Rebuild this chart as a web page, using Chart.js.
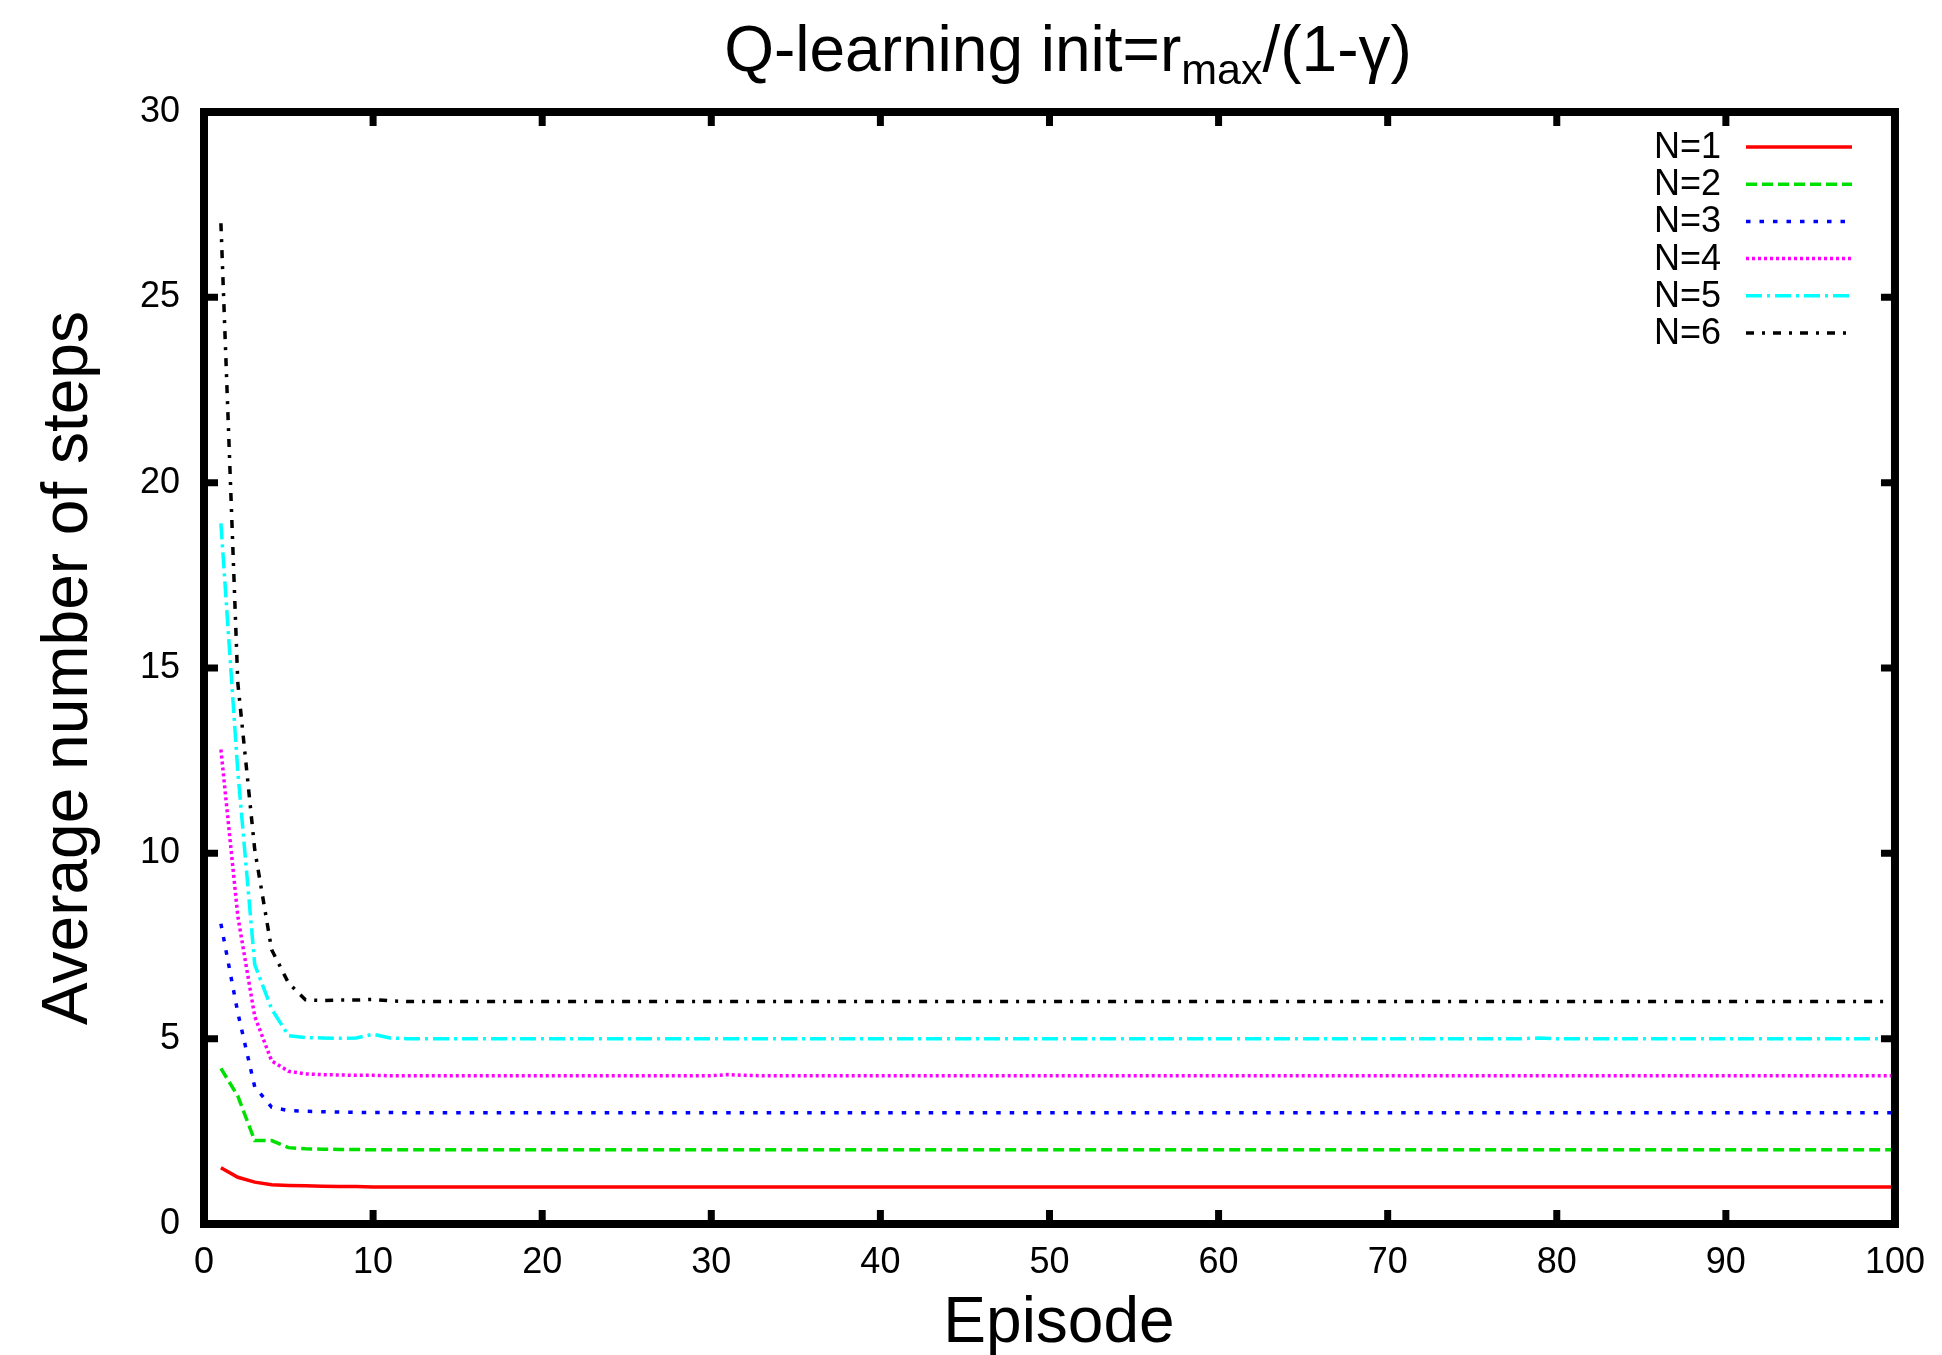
<!DOCTYPE html>
<html>
<head>
<meta charset="utf-8">
<title>Q-learning init</title>
<script src="https://cdn.jsdelivr.net/npm/chart.js@4.4.1/dist/chart.umd.min.js"></script>
<style>
  html, body { margin: 0; padding: 0; background: #ffffff; }
  canvas { display: block; }
</style>
</head>
<body>
<canvas id="steps-chart" width="1942" height="1355"></canvas>
<script>
const episodes = Array.from({ length: 100 }, (_, i) => i + 1);
const seriesLabels = ["N=1", "N=2", "N=3", "N=4", "N=5", "N=6"];
const xTicks = [0, 10, 20, 30, 40, 50, 60, 70, 80, 90, 100];
const yTicks = [0, 5, 10, 15, 20, 25, 30];

const stepsN1 = [
  1.52, 1.26, 1.13, 1.06, 1.04, 1.03, 1.02, 1.01, 1.01, 1.00,
  1.00, 1.00, 1.00, 1.00, 1.00, 1.00, 1.00, 1.00, 1.00, 1.00,
  1.00, 1.00, 1.00, 1.00, 1.00, 1.00, 1.00, 1.00, 1.00, 1.00,
  1.00, 1.00, 1.00, 1.00, 1.00, 1.00, 1.00, 1.00, 1.00, 1.00,
  1.00, 1.00, 1.00, 1.00, 1.00, 1.00, 1.00, 1.00, 1.00, 1.00,
  1.00, 1.00, 1.00, 1.00, 1.00, 1.00, 1.00, 1.00, 1.00, 1.00,
  1.00, 1.00, 1.00, 1.00, 1.00, 1.00, 1.00, 1.00, 1.00, 1.00,
  1.00, 1.00, 1.00, 1.00, 1.00, 1.00, 1.00, 1.00, 1.00, 1.00,
  1.00, 1.00, 1.00, 1.00, 1.00, 1.00, 1.00, 1.00, 1.00, 1.00,
  1.00, 1.00, 1.00, 1.00, 1.00, 1.00, 1.00, 1.00, 1.00, 1.00,
];
const stepsN2 = [
  4.20, 3.45, 2.25, 2.25, 2.06, 2.03, 2.02, 2.01, 2.01, 2.00,
  2.00, 2.00, 2.00, 2.00, 2.00, 2.00, 2.00, 2.00, 2.00, 2.00,
  2.00, 2.00, 2.00, 2.00, 2.00, 2.00, 2.00, 2.00, 2.00, 2.00,
  2.00, 2.00, 2.00, 2.00, 2.00, 2.00, 2.00, 2.00, 2.00, 2.00,
  2.00, 2.00, 2.00, 2.00, 2.00, 2.00, 2.00, 2.00, 2.00, 2.00,
  2.00, 2.00, 2.00, 2.00, 2.00, 2.00, 2.00, 2.00, 2.00, 2.00,
  2.00, 2.00, 2.00, 2.00, 2.00, 2.00, 2.00, 2.00, 2.00, 2.00,
  2.00, 2.00, 2.00, 2.00, 2.00, 2.00, 2.00, 2.00, 2.00, 2.00,
  2.00, 2.00, 2.00, 2.00, 2.00, 2.00, 2.00, 2.00, 2.00, 2.00,
  2.00, 2.00, 2.00, 2.00, 2.00, 2.00, 2.00, 2.00, 2.00, 2.00,
];
const stepsN3 = [
  8.10, 5.70, 3.70, 3.15, 3.06, 3.04, 3.03, 3.02, 3.01, 3.01,
  3.01, 3.00, 3.00, 3.00, 3.00, 3.00, 3.00, 3.00, 3.00, 3.00,
  3.00, 3.00, 3.00, 3.00, 3.00, 3.00, 3.00, 3.00, 3.00, 3.00,
  3.00, 3.00, 3.00, 3.00, 3.00, 3.00, 3.00, 3.00, 3.00, 3.00,
  3.00, 3.00, 3.00, 3.00, 3.00, 3.00, 3.00, 3.00, 3.00, 3.00,
  3.00, 3.00, 3.00, 3.00, 3.00, 3.00, 3.00, 3.00, 3.00, 3.00,
  3.00, 3.00, 3.00, 3.00, 3.00, 3.00, 3.00, 3.00, 3.00, 3.00,
  3.00, 3.00, 3.00, 3.00, 3.00, 3.00, 3.00, 3.00, 3.00, 3.00,
  3.00, 3.00, 3.00, 3.00, 3.00, 3.00, 3.00, 3.00, 3.00, 3.00,
  3.00, 3.00, 3.00, 3.00, 3.00, 3.00, 3.00, 3.00, 3.00, 3.00,
];
const stepsN4 = [
  12.80, 8.30, 5.60, 4.40, 4.12, 4.05, 4.03, 4.02, 4.01, 4.01,
  4.00, 4.00, 4.00, 4.00, 4.00, 4.00, 4.00, 4.00, 4.00, 4.00,
  4.00, 4.00, 4.00, 4.00, 4.00, 4.00, 4.00, 4.00, 4.00, 4.00,
  4.03, 4.01, 4.00, 4.00, 4.00, 4.00, 4.00, 4.00, 4.00, 4.00,
  4.00, 4.00, 4.00, 4.00, 4.00, 4.00, 4.00, 4.00, 4.00, 4.00,
  4.00, 4.00, 4.00, 4.00, 4.00, 4.00, 4.00, 4.00, 4.00, 4.00,
  4.00, 4.00, 4.00, 4.00, 4.00, 4.00, 4.00, 4.00, 4.00, 4.00,
  4.00, 4.00, 4.00, 4.00, 4.00, 4.00, 4.00, 4.00, 4.00, 4.00,
  4.00, 4.00, 4.00, 4.00, 4.00, 4.00, 4.00, 4.00, 4.00, 4.00,
  4.00, 4.00, 4.00, 4.00, 4.00, 4.00, 4.00, 4.00, 4.00, 4.00,
];
const stepsN5 = [
  18.90, 12.20, 7.00, 5.80, 5.08, 5.03, 5.02, 5.01, 5.02, 5.12,
  5.02, 5.00, 5.00, 5.00, 5.00, 5.00, 5.00, 5.00, 5.00, 5.00,
  5.00, 5.00, 5.00, 5.00, 5.00, 5.00, 5.00, 5.00, 5.00, 5.00,
  5.00, 5.00, 5.00, 5.00, 5.00, 5.00, 5.00, 5.00, 5.00, 5.00,
  5.00, 5.00, 5.00, 5.00, 5.00, 5.00, 5.00, 5.00, 5.00, 5.00,
  5.00, 5.00, 5.00, 5.00, 5.00, 5.00, 5.00, 5.00, 5.00, 5.00,
  5.00, 5.00, 5.00, 5.00, 5.00, 5.00, 5.00, 5.00, 5.00, 5.00,
  5.00, 5.00, 5.00, 5.00, 5.00, 5.00, 5.00, 5.00, 5.02, 5.00,
  5.00, 5.00, 5.00, 5.00, 5.00, 5.00, 5.00, 5.00, 5.00, 5.00,
  5.00, 5.00, 5.00, 5.00, 5.00, 5.00, 5.00, 5.00, 5.00, 5.00,
];
const stepsN6 = [
  27.00, 14.60, 10.10, 7.40, 6.50, 6.05, 6.03, 6.04, 6.04, 6.06,
  6.02, 6.00, 6.00, 6.00, 6.00, 6.00, 6.00, 6.00, 6.00, 6.00,
  6.00, 6.00, 6.00, 6.00, 6.00, 6.00, 6.00, 6.00, 6.00, 6.00,
  6.00, 6.00, 6.00, 6.00, 6.00, 6.00, 6.00, 6.00, 6.00, 6.00,
  6.00, 6.00, 6.00, 6.00, 6.00, 6.00, 6.00, 6.00, 6.00, 6.00,
  6.00, 6.00, 6.00, 6.00, 6.00, 6.00, 6.00, 6.00, 6.00, 6.00,
  6.00, 6.00, 6.00, 6.00, 6.00, 6.00, 6.00, 6.00, 6.00, 6.00,
  6.00, 6.00, 6.00, 6.00, 6.00, 6.00, 6.00, 6.00, 6.00, 6.00,
  6.00, 6.00, 6.00, 6.00, 6.00, 6.00, 6.00, 6.00, 6.00, 6.00,
  6.00, 6.00, 6.00, 6.00, 6.00, 6.00, 6.00, 6.00, 6.00, 6.00,
];

const FONT = "'Liberation Sans', Arial, Helvetica, sans-serif";
const lineColors = ["#ff0000", "#00e000", "#0000ff", "#ff00ff", "#00ffff", "#000000"];
const lineDashes = [[], [11, 5], [4.5, 9], [3, 3], [16, 5, 3, 5], [8, 8, 3, 8]];
const allSeries = [stepsN1, stepsN2, stepsN3, stepsN4, stepsN5, stepsN6];

// frame + inward ticks on all four sides, like gnuplot's border
const framePlugin = {
  id: "frame",
  afterDatasetsDraw(chart) {
    const { ctx, chartArea: a, scales } = chart;
    ctx.save();
    ctx.strokeStyle = "#000";
    ctx.lineWidth = 8;
    ctx.strokeRect(a.left, a.top, a.right - a.left, a.bottom - a.top);
    const len = 14;
    ctx.lineWidth = 7;
    ctx.beginPath();
    xTicks.forEach((v) => {
      const x = scales.x.getPixelForValue(v);
      ctx.moveTo(x, a.bottom); ctx.lineTo(x, a.bottom - len);
      ctx.moveTo(x, a.top); ctx.lineTo(x, a.top + len);
    });
    yTicks.forEach((v) => {
      const y = scales.y.getPixelForValue(v);
      ctx.moveTo(a.left, y); ctx.lineTo(a.left + len, y);
      ctx.moveTo(a.right, y); ctx.lineTo(a.right - len, y);
    });
    ctx.stroke();
    ctx.restore();
  },
};

// title with subscript and axis titles
const textPlugin = {
  id: "texts",
  afterDraw(chart) {
    const { ctx, chartArea: a } = chart;
    ctx.save();
    ctx.fillStyle = "#000";
    ctx.textBaseline = "alphabetic";
    const big = `64px ${FONT}`;
    const small = `43px ${FONT}`;
    const parts = [
      { t: "Q-learning init=r", f: big, dy: 0 },
      { t: "max", f: small, dy: 13 },
      { t: "/(1-\u03b3)", f: big, dy: 0 },
    ];
    let total = 0;
    parts.forEach((p) => { ctx.font = p.f; p.w = ctx.measureText(p.t).width; total += p.w; });
    let x = 1068 - total / 2;
    parts.forEach((p) => {
      ctx.font = p.f;
      ctx.textAlign = "left";
      ctx.fillText(p.t, x, 71 + p.dy);
      x += p.w;
    });

    ctx.font = `64px ${FONT}`;
    ctx.textAlign = "center";
    ctx.fillText("Episode", 1059, 1342);

    ctx.translate(87, (a.top + a.bottom) / 2);
    ctx.rotate(-Math.PI / 2);
    ctx.fillText("Average number of steps", 0, 0);
    ctx.restore();
  },
};

// gnuplot style key: label right-aligned, line sample to the right
const keyPlugin = {
  id: "key",
  afterDraw(chart) {
    const { ctx } = chart;
    ctx.save();
    ctx.font = `36px ${FONT}`;
    ctx.fillStyle = "#000";
    ctx.textAlign = "right";
    ctx.textBaseline = "middle";
    chart.data.datasets.forEach((ds, i) => {
      const y = 147 + i * 37.2;
      ctx.fillText(ds.label, 1721, y + 1);
      ctx.beginPath();
      ctx.strokeStyle = ds.borderColor;
      ctx.lineWidth = ds.borderWidth;
      ctx.setLineDash(ds.borderDash);
      ctx.moveTo(1746, y);
      ctx.lineTo(1852, y);
      ctx.stroke();
    });
    ctx.restore();
  },
};

Chart.defaults.font.family = FONT;
Chart.defaults.color = "#000";

new Chart(document.getElementById("steps-chart"), {
  type: "line",
  data: {
    datasets: allSeries.map((vals, i) => ({
      label: seriesLabels[i],
      data: vals.map((v, k) => ({ x: episodes[k], y: v })),
      borderColor: lineColors[i],
      borderDash: lineDashes[i],
      borderWidth: 3.5,
      pointRadius: 0,
      tension: 0,
      fill: false,
    })),
  },
  options: {
    responsive: false,
    animation: false,
    layout: { padding: { top: 112, right: 45, bottom: 0, left: 0 } },
    plugins: {
      legend: { display: false },
      tooltip: { enabled: false },
      title: { display: false },
    },
    scales: {
      x: {
        type: "linear",
        min: 0,
        max: 100,
        afterFit: (scale) => { scale.height = 131; },
        afterBuildTicks: (scale) => { scale.ticks = xTicks.map((v) => ({ value: v })); },
        grid: { display: false, drawTicks: false },
        border: { display: false },
        ticks: { font: { size: 36 }, padding: 17, maxRotation: 0, color: "#000" },
      },
      y: {
        type: "linear",
        min: 0,
        max: 30,
        afterFit: (scale) => { scale.width = 204; },
        afterBuildTicks: (scale) => { scale.ticks = yTicks.map((v) => ({ value: v })); },
        grid: { display: false, drawTicks: false },
        border: { display: false },
        ticks: { font: { size: 36 }, padding: 24, color: "#000" },
      },
    },
  },
  plugins: [framePlugin, textPlugin, keyPlugin],
});
</script>
</body>
</html>
